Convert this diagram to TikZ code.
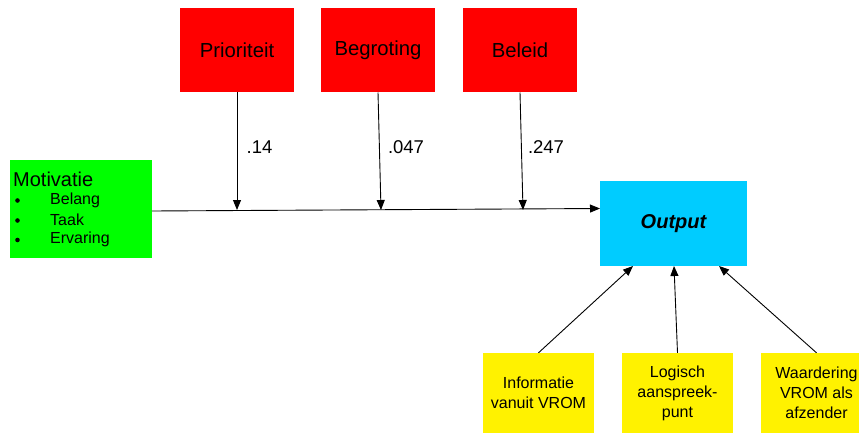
\documentclass[tikz,border=0pt]{standalone}
\usepackage{fontspec}
\setmainfont{Liberation Sans}
\usetikzlibrary{arrows.meta}
\begin{document}
\begin{tikzpicture}[x=1pt,y=-1pt,
  box/.style={rectangle,inner sep=0pt,align=center,text=black},
  redbox/.style={box,fill=red,minimum width=114pt,minimum height=84pt,font=\fontsize{20.3}{24}\selectfont},
  yelbox/.style={box,fill=yellow,minimum width=111pt,minimum height=80pt,font=\fontsize{16}{20}\selectfont},
  lbl/.style={inner sep=0pt,font=\fontsize{18.5}{22}\selectfont},
  dot/.style={circle,fill=black,inner sep=0pt,minimum size=4.6pt},
  arr/.style={draw=black,line width=0.9pt,-{Triangle[length=10pt,width=8pt]}}]
\useasboundingbox (0,0) rectangle (859,433);
\clip (0,0) rectangle (859,433);
\fill[white] (0,0) rectangle (859,433);
% red boxes
\node[redbox] (prio) at (237,50.3) {Prioriteit};
\node[redbox] (beg) at (378,50.3) {Begroting};
\node[redbox] (bel) at (520,50.3) {Beleid};
% green box
\node[box,fill=green,minimum width=142pt,minimum height=98pt] (mot) at (81,209) {};
\node[inner sep=0pt,anchor=west,font=\fontsize{20}{24}\selectfont] (motT) at (13,179.5) {Motivatie};
\begin{scope}[every node/.style={inner sep=0pt,anchor=west,font=\fontsize{16}{20}\selectfont}]
\node (b1) at (50,200) {Belang};
\node (b2) at (50,220) {Taak};
\node (b3) at (50,239.5) {Ervaring};
\end{scope}
\node[dot] (d1) at (17.5,200.5) {};
\node[dot] (d2) at (17.5,220.5) {};
\node[dot] (d3) at (17.5,240) {};
% output
\node[box,fill={rgb,255:red,0;green,204;blue,255},minimum width=147pt,minimum height=85pt,font=\fontsize{20}{24}\selectfont\bfseries\itshape] (out) at (673.5,223.3) {Output};
% yellow boxes
\node[yelbox] (inf) at (538.5,393) {Informatie\\vanuit VROM};
\node[yelbox] (log) at (677.5,393) {Logisch\\aanspreek-\\punt};
\node[yelbox] (waa) at (816.5,393) {Waardering\\VROM als\\afzender};
% coordinates
\coordinate (p1) at (237,210);
\coordinate (p2) at (381,210);
\coordinate (p3) at (523,210);
\coordinate (oin) at (600,208.5);
\coordinate (mout) at (152,211);
\coordinate (t1) at (633,266);
\coordinate (t2) at (674,266);
\coordinate (t3) at (719,266);
% connectors
\draw[arr] (mot.east |- mout) -- (oin);
\draw[arr] (prio.south) -- (p1);
\draw[arr] (beg.south) -- (p2);
\draw[arr] (bel.south) -- (p3);
\draw[arr] (inf.north) -- (t1);
\draw[arr] (log.north) -- (t2);
\draw[arr] (waa.north) -- (t3);
% labels
\node[lbl] (l1) at (259.5,147) {.14};
\node[lbl] (l2) at (406,147) {.047};
\node[lbl] (l3) at (546,147) {.247};
\end{tikzpicture}
\end{document}
